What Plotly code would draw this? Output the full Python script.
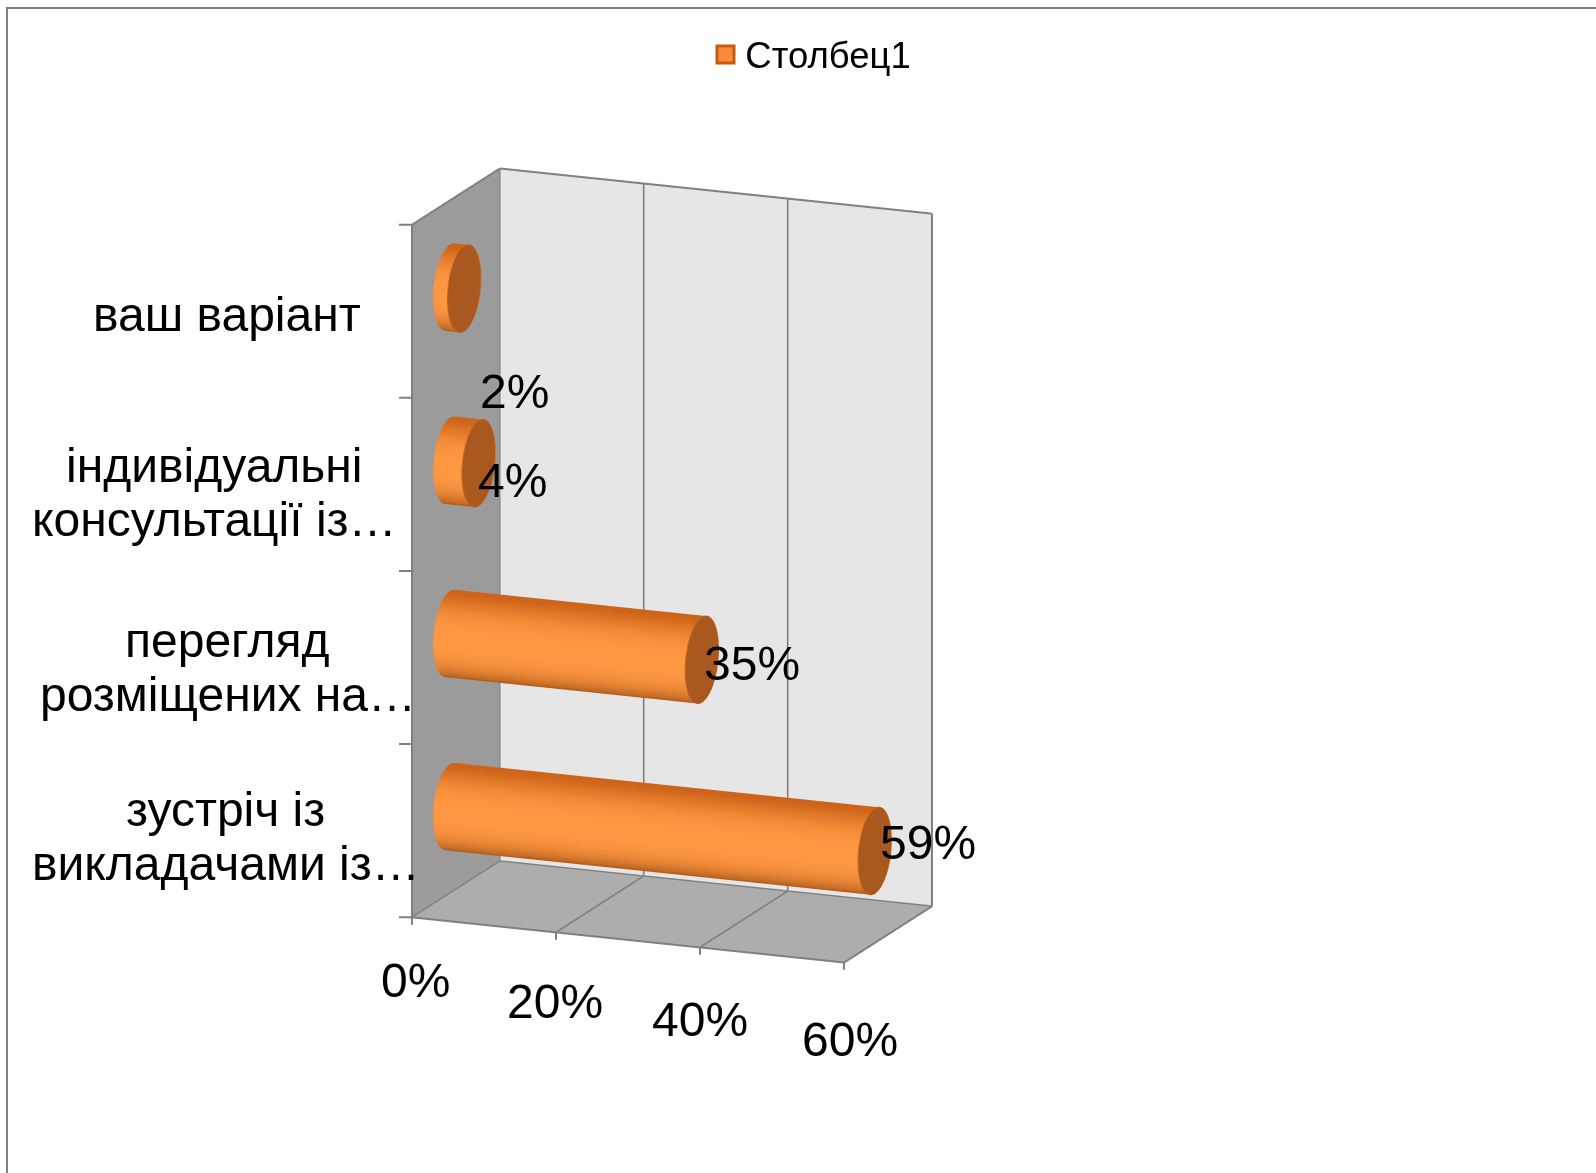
import numpy as np
import plotly.graph_objects as go

categories = ["зустріч із<br>викладачами із…", "перегляд<br>розміщених на…", "індивідуальні<br>консультації із…", "ваш варіант"]
values = [59, 35, 4, 2]
value_labels = ["59%", "35%", "4%", "2%"]
x_ticks = [0, 20, 40, 60]
x_tick_labels = ["0%", "20%", "40%", "60%"]
series_name = "Столбец1"

W, H = 1596, 1173
FONT = "Liberation Sans, Arial, sans-serif"
RZ, RY, YM = 0.245, 0.19, 0.43
GREY = "#808080"
K = 1.018
SCALE = 1.268


def lerp(a, b, t):
    return tuple(a[i] + (b[i] - a[i]) * t for i in range(3))


def shade(u):
    top, mid, bot = (205, 100, 25), (255, 152, 66), (160, 80, 20)
    if u > 0.1:
        return "rgb(%d,%d,%d)" % lerp(mid, top, ((u - 0.1) / 0.9) ** 3)
    return "rgb(%d,%d,%d)" % lerp(mid, bot, ((0.1 - u) / 1.1) ** 2.5)


LIGHT = dict(ambient=1, diffuse=0, specular=0, fresnel=0, roughness=1)
fig = go.Figure()
n = 72
ang = np.linspace(0, 2 * np.pi, n, endpoint=False)
for i, v in enumerate(values):
    zc = i + 0.5
    ys = YM + RY * np.cos(ang)
    zs = zc + RZ * np.sin(ang)
    xv = np.r_[np.zeros(n), np.full(n, v)]
    yv = np.r_[ys, ys]
    zv = np.r_[zs, zs]
    cols = [shade(s) for s in np.sin(ang)] * 2
    ii, jj, kk = [], [], []
    for a in range(n):
        b = (a + 1) % n
        ii += [a, b]
        jj += [b, b + n]
        kk += [a + n, a + n]
    fig.add_trace(go.Mesh3d(x=xv, y=yv, z=zv, i=ii, j=jj, k=kk, vertexcolor=cols,
                            lighting=LIGHT, flatshading=False, hoverinfo="skip", showlegend=False))
    fig.add_trace(go.Mesh3d(x=np.r_[v, np.full(n, v)], y=np.r_[YM, ys], z=np.r_[zc, zs],
                            i=[0] * n, j=[1 + a for a in range(n)], k=[1 + (a + 1) % n for a in range(n)],
                            color="#a9581f", lighting=LIGHT, hoverinfo="skip", showlegend=False))
    fig.add_trace(go.Scatter3d(x=np.full(n + 1, v), y=np.r_[ys, ys[0]], z=np.r_[zs, zs[0]], mode="lines",
                               line=dict(color="#c85f12", width=2), hoverinfo="skip", showlegend=False))

# box edges
edges = [([0, 0], [0, 1], [4, 4]), ([0, 60], [1, 1], [4, 4]), ([60, 60], [1, 1], [0, 4]),
         ([0, 0], [1, 1], [0, 4]), ([0, 0], [0, 0], [0, 4]), ([0, 60], [0, 0], [0, 0]),
         ([60, 60], [0, 1], [0, 0]), ([0, 0], [0, 1], [0, 0]), ([0, 60], [1, 1], [0, 0])]
# gridlines on back wall and floor
for t in x_ticks[1:-1]:
    edges.append(([t, t], [1, 1], [0, 4]))
    edges.append(([t, t], [0, 1], [0, 0]))
for ex, ey, ez in edges:
    fig.add_trace(go.Scatter3d(x=ex, y=ey, z=ez, mode="lines", line=dict(color=GREY, width=4),
                               hoverinfo="skip", showlegend=False))

# legend entry
fig.add_trace(go.Scatter(x=[None], y=[None], mode="markers", name=series_name, showlegend=True,
                         marker=dict(symbol="square", size=10, color="#fb8b3c", line=dict(color="#fb8b3c", width=0))))

annotations = []
tick_shift = [(3, -62), (-1, -68), (0, -71), (6, -76)]
for t, lab, (dx, dy) in zip(x_ticks, x_tick_labels, tick_shift):
    annotations.append(dict(x=t, y=0, z=0, text=lab, showarrow=False, xshift=dx * K, yshift=dy * K,
                            font=dict(family=FONT, size=48, color="black")))
    annotations.append(dict(x=t, y=0, z=0, text=" ", showarrow=True, arrowhead=0, arrowcolor=GREY, arrowwidth=2,
                            ax=0, ay=16, standoff=0))
for zt in range(5):
    annotations.append(dict(x=0, y=0, z=zt, text=" ", showarrow=True, arrowhead=0, arrowcolor=GREY, arrowwidth=2,
                            ax=-16, ay=0, standoff=0))
cat_shift = [[(-183, 21), (-183, -32)], [(-181, 17), (-181, -36)], [(-194, 19), (-194, -35)], [(-182, -3)]]
for i, c in enumerate(categories):
    for line, (dx, dy) in zip(c.split("<br>"), cat_shift[i]):
        annotations.append(dict(x=0, y=0, z=i + 0.5, text=line, showarrow=False, xshift=dx * K, yshift=dy * K,
                                align="center", font=dict(family=FONT, size=48, color="black")))
lab_shift = [(46, 4), (43, -8), (27, -21), (43, -105)]
for i, (v, l) in enumerate(zip(values, value_labels)):
    annotations.append(dict(x=v, y=0.5, z=i + 0.5, text=l, showarrow=False, xshift=lab_shift[i][0] * K, yshift=lab_shift[i][1] * K,
                            font=dict(family=FONT, size=48, color="black")))

theta, phi, dist = np.radians(22), np.radians(15), 1.80
eye = dict(x=float(dist * np.sin(theta) * np.cos(phi)), y=float(-dist * np.cos(theta) * np.cos(phi)), z=float(dist * np.sin(phi)))


def ax(**kw):
    d = dict(showticklabels=False, title=dict(text=""), showspikes=False, zeroline=False, showline=False, showgrid=False, ticks="")
    d.update(kw)
    return d


fig.update_layout(
    width=W, height=H, margin=dict(l=0, r=0, t=0, b=0), paper_bgcolor="white", plot_bgcolor="white",
    font=dict(family=FONT, color="black"),
    xaxis=dict(visible=False, domain=[0, 0.01]), yaxis=dict(visible=False, domain=[0, 0.01]),
    legend=dict(orientation="h", x=0.508, xanchor="center", y=0.98, yanchor="top", bgcolor="rgba(0,0,0,0)",
                font=dict(family=FONT, size=36.5, color="black"), itemsizing="constant"),
    shapes=[dict(type="rect", xref="paper", yref="paper", x0=7 / W, x1=1.2, y0=-0.2, y1=1 - 8 / H, line=dict(color=GREY, width=2)),
            dict(type="rect", xref="paper", yref="paper", x0=717 / W, x1=734 / W, y0=1 - 63 / H, y1=1 - 46 / H,
                 fillcolor="#fb8b3c", line=dict(color="#c85a0e", width=3))],
    scene=dict(
        domain=dict(x=[0, 0.842], y=[0.036, 1]),
        aspectmode="manual", aspectratio=dict(x=0.65 * SCALE, y=0.327 * SCALE, z=1.0 * SCALE),
        camera=dict(eye=eye, center=dict(x=0, y=0, z=0), up=dict(x=0, y=0, z=1), projection=dict(type="orthographic")),
        xaxis=ax(range=[0, 60], tickvals=x_ticks, showbackground=True, backgroundcolor="#9b9b9b"),
        yaxis=ax(range=[0, 1], showbackground=True, backgroundcolor="#e6e6e6"),
        zaxis=ax(range=[0, 4], tickvals=[0, 1, 2, 3, 4], showbackground=True, backgroundcolor="#adadad"),
        annotations=annotations,
    ),
)
fig.write_html("out.html", config={"displayModeBar": False},
               post_script="document.body.style.margin='0';document.body.style.overflow='hidden';")
